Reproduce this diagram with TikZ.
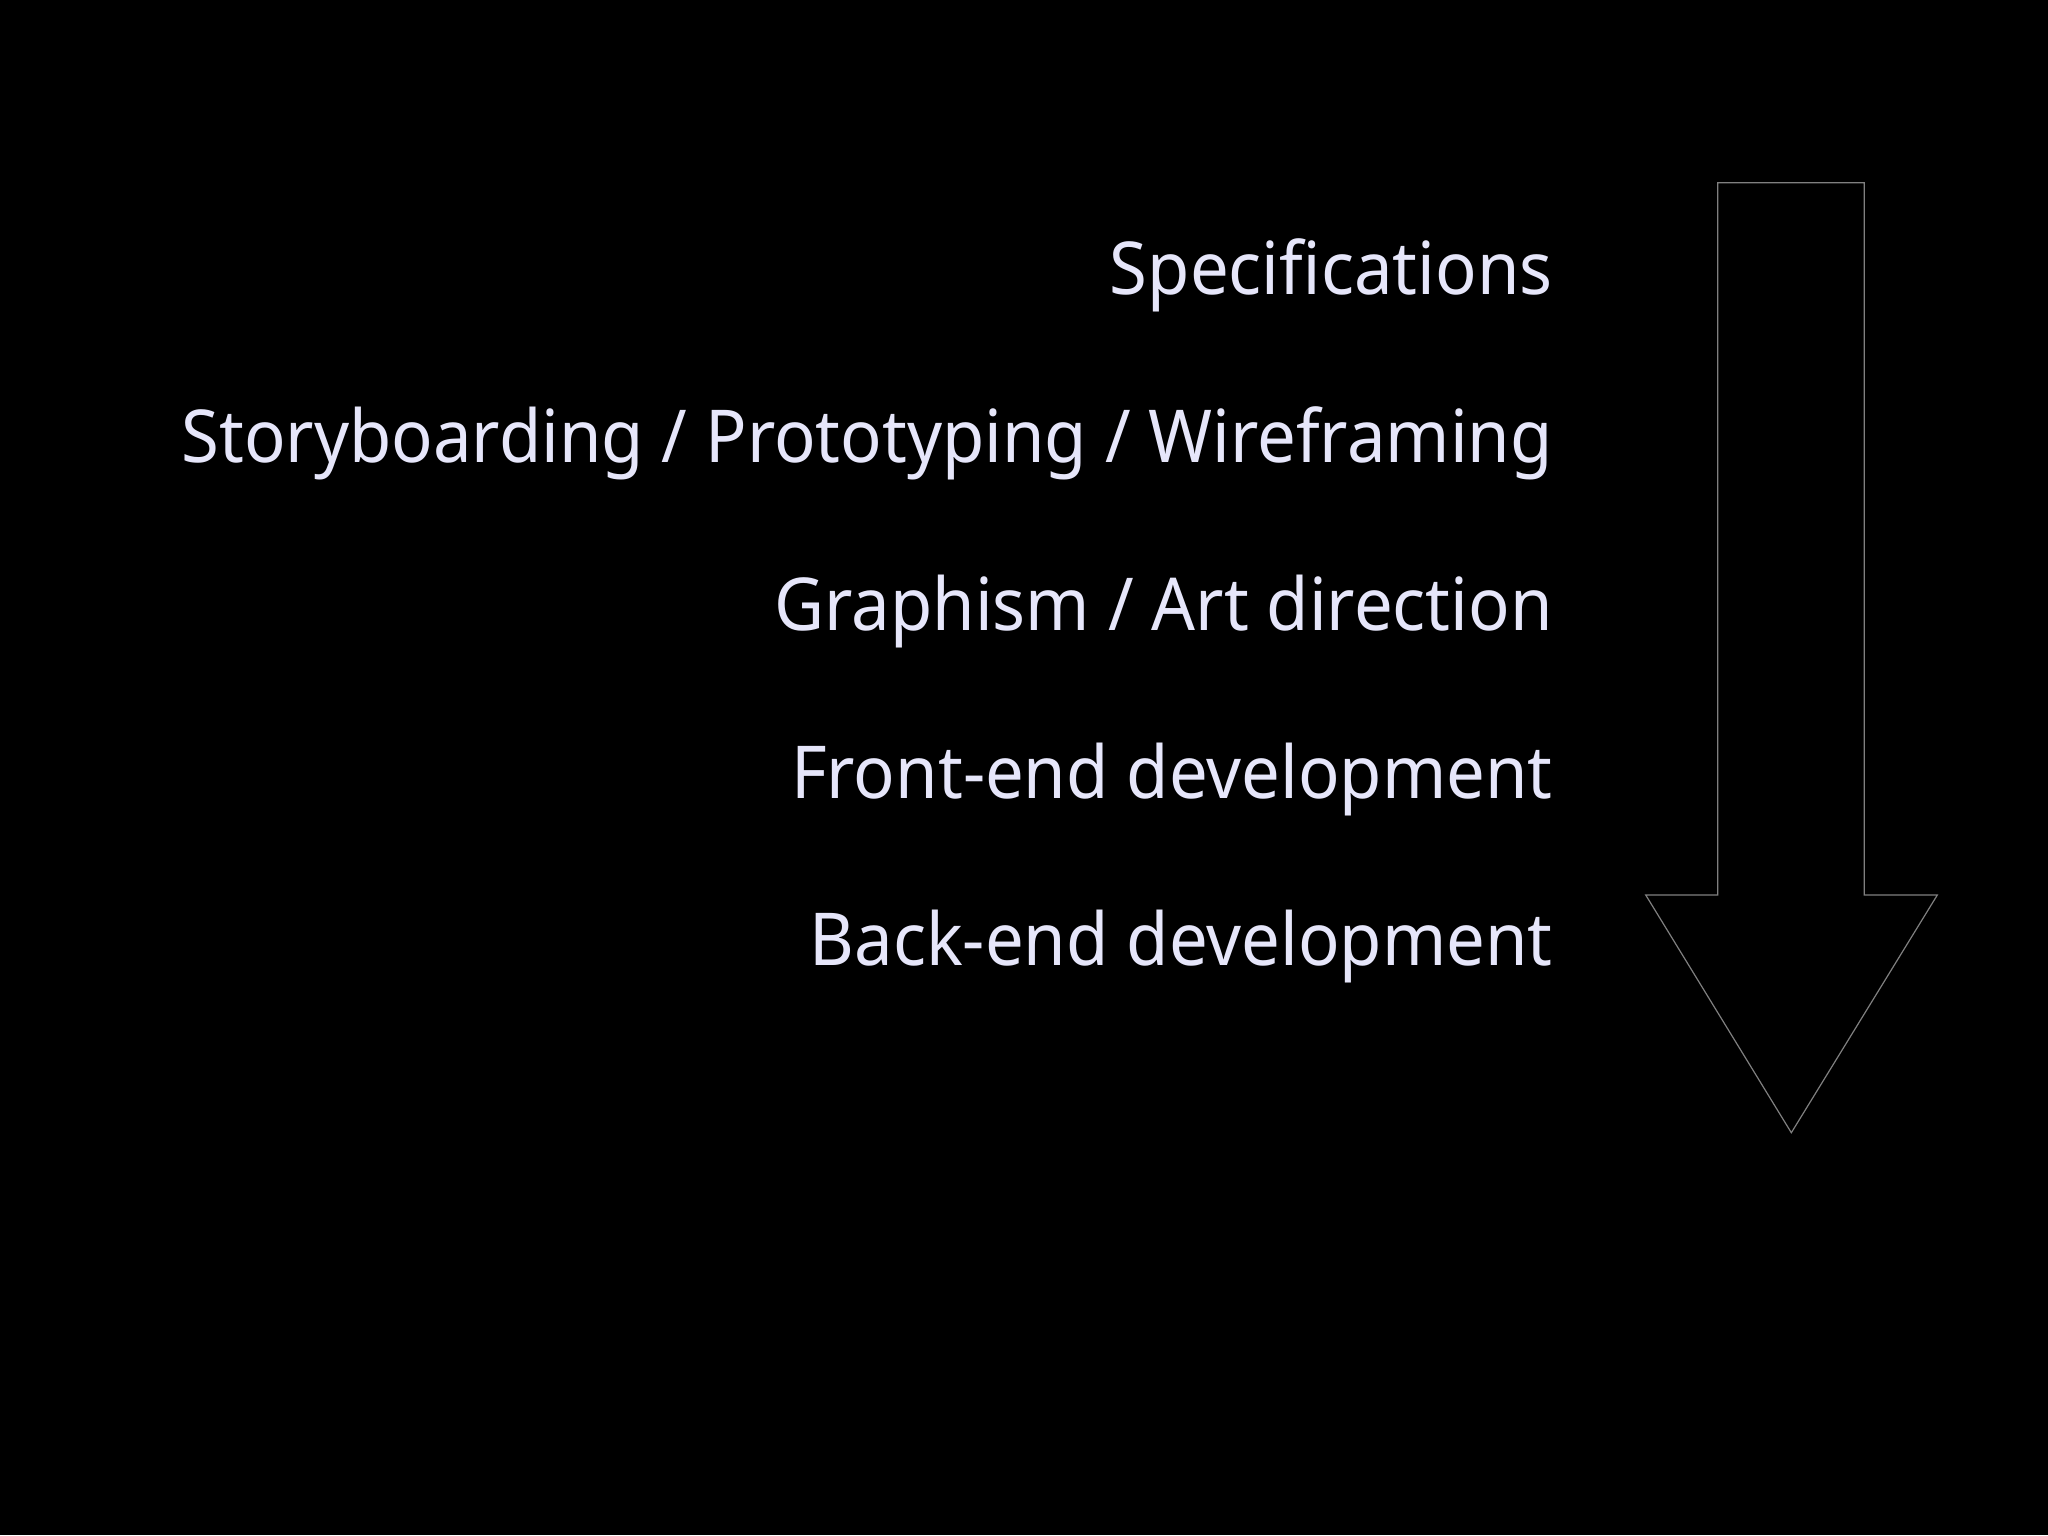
\documentclass[tikz,border=0pt]{standalone}
\usepackage{fontspec}
\setmainfont[FakeStretch=0.943]{Noto Sans}
\definecolor{steptext}{HTML}{E6E6FA}
\definecolor{arrowline}{HTML}{808080}
\begin{document}
\begin{tikzpicture}[x=0.5pt,y=-0.5pt,every node/.style={text=steptext,font=\fontsize{36.5}{40}\selectfont,inner sep=0pt,anchor=base east}]
\fill[black] (0,0) rectangle (2048,1535);
\useasboundingbox (0,0) rectangle (2048,1535);
\foreach \a/\b in {0/Specifications,1/{Storyboarding / Prototyping / Wireframing},2/{Graphism / Art direction},3/Front-end development,4/Back-end development}{ \node (task\a) at (1553,295+167.7*\a){\b};}

\draw[arrowline,line width=0.6pt] (1717.7,182.7) -- (1864.3,182.7) -- (1864.3,895) -- (1937.3,895) -- (1791.3,1132.7) -- (1645.7,895) -- (1717.7,895) -- cycle;
\end{tikzpicture}
\end{document}
